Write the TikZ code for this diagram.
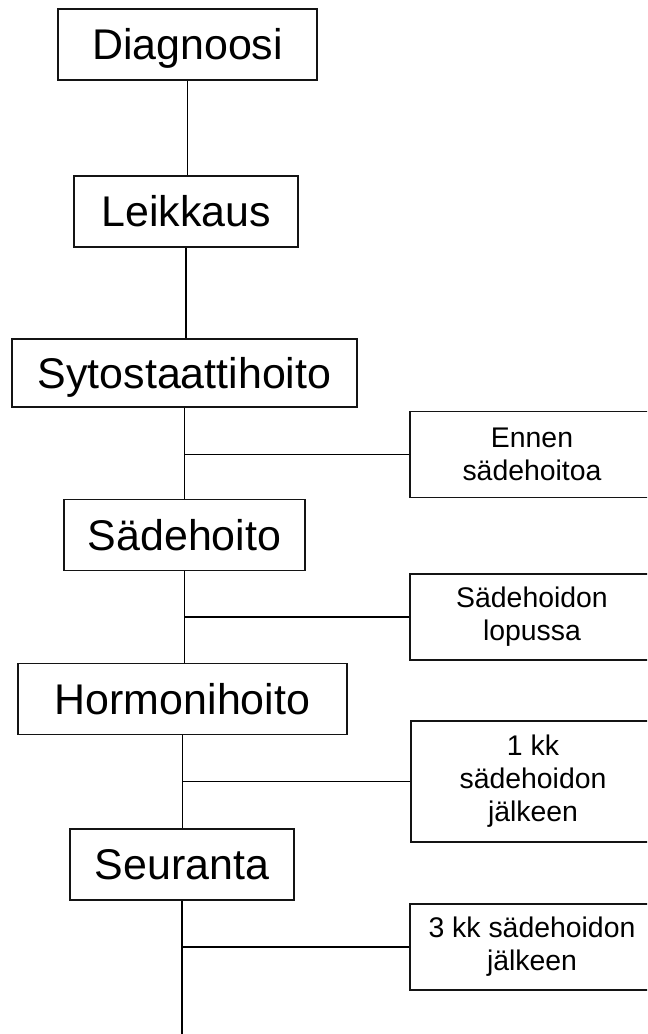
\documentclass[tikz,border=0pt]{standalone}
\usepackage{fontspec}
\setmainfont{Liberation Sans}
\usetikzlibrary{positioning}
\definecolor{boxline}{RGB}{20,20,20}

\begin{document}
\begin{tikzpicture}[x=0.75pt, y=-0.75pt, line width=0.85pt,
  phase/.style={draw=boxline, font=\fontsize{32.2}{36}\selectfont, minimum height=53.25pt, text height=23pt, text depth=0pt, inner sep=0pt},
  note/.style={draw=boxline, font=\fontsize{21.3}{24.75}\selectfont, align=center, minimum width=183pt, minimum height=64.5pt, inner sep=0pt}]

\useasboundingbox (0,0) rectangle (647,1034);
\clip (0,0) rectangle (647,1034);

% === treatment phases ===
\node[phase, minimum width=194.25pt] (diag) at (187.5,44.5) {Diagnoosi};
\node[phase, minimum width=168pt] (leik) at (186,211.5) {Leikkaus};
\node[phase, minimum width=258.75pt, minimum height=51pt] (syto) at (184.5,373) {Sytostaattihoito};
\node[phase, minimum width=180.75pt] (sade) at (184.5,535) {Sädehoito};
\node[phase, minimum width=246.75pt] (horm) at (182.5,699) {Hormonihoito};
\node[phase, minimum width=168pt] (seur) at (182,864.5) {Seuranta};
\coordinate (loppu) at (182,1040);

\draw (diag.south) -- (diag.south |- leik.north);
\draw (leik.south) -- (leik.south |- syto.north);
\draw (syto.south) -- (syto.south |- sade.north);
\draw (sade.south) -- (sade.south |- horm.north);
\draw (horm.south) -- (horm.south |- seur.north);
\draw (seur.south) -- (seur.south |- loppu);

% === time points ===
\node[note] (ennen) at (532,454.5) {Ennen\\sädehoitoa};
\node[note] (lopussa) at (532,617) {Sädehoidon\\lopussa};
\node[note, minimum height=90.75pt] (kk1) at (533,781.5) {1 kk\\sädehoidon\\jälkeen};
\node[note] (kk3) at (532,947) {3 kk sädehoidon\\jälkeen};

\draw (ennen.west) -- (ennen.west -| syto.south);
\draw (lopussa.west) -- (lopussa.west -| sade.south);
\draw (kk1.west) -- (kk1.west -| horm.south);
\draw (kk3.west) -- (kk3.west -| seur.south);

\end{tikzpicture}
\end{document}
